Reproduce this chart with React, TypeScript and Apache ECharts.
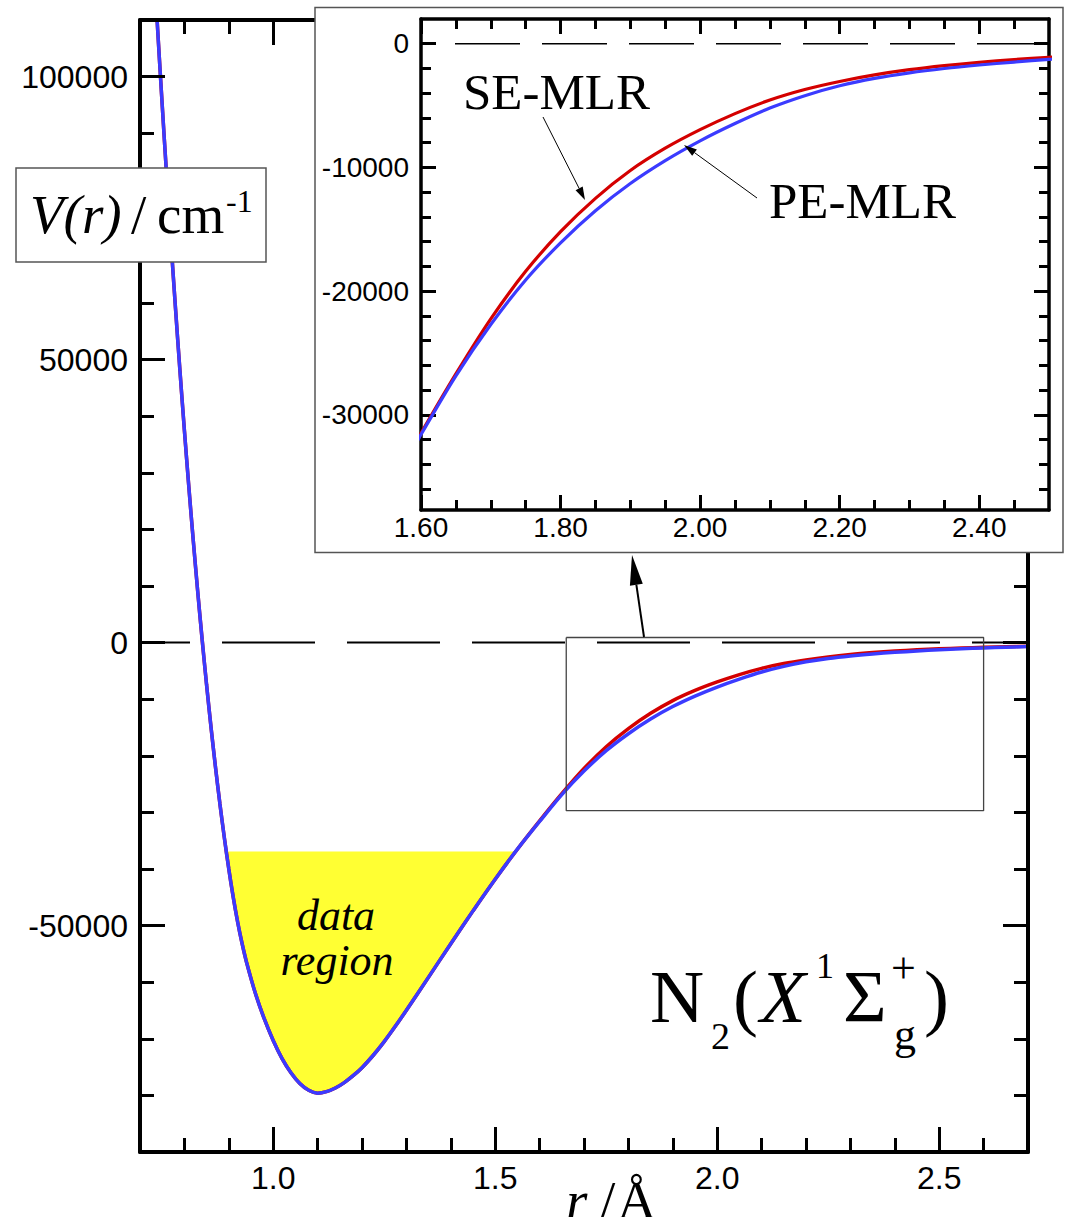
import React, { useEffect, useRef } from "react";
import * as echarts from "echarts";

// ---------------- data ----------------
// inner wall, well and outer limb (both fits coincide here), r in Å, V in cm^-1
const rWall = [0.73, 0.74, 0.75, 0.76, 0.77, 0.78, 0.79, 0.80, 0.81, 0.82, 0.83, 0.84, 0.85, 0.86, 0.87, 0.88, 0.89, 0.90, 0.91, 0.92, 0.93, 0.94, 0.96, 0.98, 1.00, 1.02, 1.04, 1.06, 1.08, 1.10, 1.12, 1.14, 1.16, 1.18, 1.20, 1.225, 1.25, 1.275, 1.30, 1.35, 1.40, 1.45, 1.50, 1.55];
const vWall = [121500, 108000, 95000, 82500, 70500, 59000, 48000, 37500, 27500, 18000, 9000, 500, -7500, -15000, -22000, -28500, -34500, -40000, -45000, -49400, -53200, -56500, -62000, -66500, -70300, -73500, -76000, -77900, -79100, -79600, -79340, -78700, -77740, -76520, -75100, -72950, -70500, -67800, -64950, -59100, -53200, -47400, -41800, -36500];

// long-range part where the two fits differ
const rOuter = [1.60, 1.65, 1.70, 1.75, 1.80, 1.85, 1.90, 1.95, 2.00, 2.05, 2.10, 2.15, 2.20, 2.25, 2.30, 2.35, 2.40, 2.45, 2.50, 2.55, 2.60, 2.65, 2.70];
const vSE = [-31500, -26700, -22250, -18400, -15200, -12500, -10250, -8450, -6950, -5650, -4550, -3700, -3050, -2520, -2100, -1770, -1500, -1280, -1100, -960, -830, -720, -630];
const vPE = [-31600, -26850, -22700, -19100, -16100, -13500, -11300, -9450, -7850, -6450, -5200, -4200, -3400, -2800, -2350, -2000, -1720, -1480, -1270, -1090, -940, -810, -700];

// "data region" (yellow) : top energy and its two edges in r
const dataRegionR = [0.894, 1.546];
const dataRegionV = -36900;

// zoom box drawn on the main plot
const zoomBoxR = [1.66, 2.6];
const zoomBoxV = [-29700, 900];

// ticks
const mainXMajor = [1.0, 1.5, 2.0, 2.5];
const mainXMinor = [0.8, 0.9, 1.1, 1.2, 1.3, 1.4, 1.6, 1.7, 1.8, 1.9, 2.1, 2.2, 2.3, 2.4, 2.6];
const mainYMajor = [-50000, 0, 50000, 100000];
const mainYMinor = [-80000, -70000, -60000, -40000, -30000, -20000, -10000, 10000, 20000, 30000, 40000, 60000, 70000, 80000, 90000];
const insetXMajor = [1.6, 1.8, 2.0, 2.2, 2.4];
const insetXMinor = [1.65, 1.7, 1.75, 1.85, 1.9, 1.95, 2.05, 2.1, 2.15, 2.25, 2.3, 2.35, 2.45];
const insetYMajor = [-30000, -20000, -10000, 0];
const insetYMinor = [-36000, -34000, -32000, -28000, -26000, -24000, -22000, -18000, -16000, -14000, -12000, -8000, -6000, -4000, -2000];

const mainXRange = [0.7, 2.7];
const mainYRange = [-90000, 110000];
const insetXRange = [1.6, 2.5];
const insetYRange = [-37700, 2000];

// ------------------------------------------------------------
const SERIF = '"Liberation Serif", "Times New Roman", serif';
const SANS = '"Liberation Sans", Arial, Helvetica, sans-serif';

const zip = (xs: number[], ys: number[]) => xs.map((x, i) => [x, ys[i]]);

function makeAxes(o: any) {
  const common = {
    type: "value",
    gridIndex: o.grid,
    position: o.pos,
    min: o.range[0],
    max: o.range[1],
    z: o.z,
    splitLine: { show: false },
    splitArea: { show: false },
  };
  const tickStyle = { color: "#000", width: o.tickW };
  return [
    {
      ...common,
      axisLine: { show: o.line, onZero: false, lineStyle: { color: "#000", width: o.lineW } },
      axisTick: { show: true, inside: true, length: o.majLen, customValues: o.major, lineStyle: tickStyle },
      axisLabel: o.label
        ? {
            show: true,
            customValues: o.major,
            formatter: o.label.fmt,
            fontSize: o.label.size,
            fontFamily: SANS,
            color: "#000",
            margin: o.label.margin,
          }
        : { show: false },
    },
    {
      ...common,
      axisLine: { show: false, onZero: false },
      axisTick: { show: true, inside: true, length: o.minLen, customValues: o.minor, lineStyle: tickStyle },
      axisLabel: { show: false },
    },
  ];
}

function txt(text: string, x: number, baseline: number, size: number, italic = false, align = "left") {
  return {
    type: "text",
    z: 30,
    style: {
      text,
      x,
      y: baseline - size * 0.34,
      fill: "#000",
      fontSize: size,
      fontFamily: SERIF,
      fontStyle: italic ? "italic" : "normal",
      textAlign: align,
      textVerticalAlign: "middle",
      align,
      verticalAlign: "middle",
    },
  };
}

function arrow(x1: number, y1: number, x2: number, y2: number, headLen: number, headHalf: number, w: number) {
  const dx = x2 - x1;
  const dy = y2 - y1;
  const L = Math.hypot(dx, dy);
  const ux = dx / L;
  const uy = dy / L;
  const bx = x2 - ux * headLen;
  const by = y2 - uy * headLen;
  return [
    { type: "line", z: 30, shape: { x1, y1, x2: bx, y2: by }, style: { stroke: "#000", lineWidth: w } },
    {
      type: "polygon",
      z: 30,
      shape: { points: [[x2, y2], [bx - uy * headHalf, by + ux * headHalf], [bx + uy * headHalf, by - ux * headHalf]] },
      style: { fill: "#000" },
    },
  ];
}

export default function App() {
  const ref = useRef<HTMLDivElement>(null);

  useEffect(() => {
    if (!ref.current) return;
    const chart = echarts.init(ref.current, undefined, { renderer: "svg" });

    const wall = zip(rWall, vWall);
    const seData = [...wall, ...zip(rOuter, vSE)];
    const peData = [...wall, ...zip(rOuter, vPE)];

    const fillPts = [
      [dataRegionR[0], dataRegionV],
      ...wall.filter((p) => p[0] > dataRegionR[0] && p[0] < dataRegionR[1]),
      [dataRegionR[1], dataRegionV],
    ];

    const xAxes = [
      ...makeAxes({ grid: 0, pos: "bottom", range: mainXRange, major: mainXMajor, minor: mainXMinor, majLen: 25, minLen: 14, line: true, lineW: 4, tickW: 3, z: 3, label: { fmt: (v: number) => v.toFixed(1), size: 32, margin: 10 } }),
      ...makeAxes({ grid: 0, pos: "top", range: mainXRange, major: mainXMajor, minor: mainXMinor, majLen: 25, minLen: 14, line: true, lineW: 4, tickW: 3, z: 3 }),
      ...makeAxes({ grid: 1, pos: "bottom", range: insetXRange, major: insetXMajor, minor: insetXMinor, majLen: 15, minLen: 10, line: true, lineW: 3.5, tickW: 3, z: 10, label: { fmt: (v: number) => v.toFixed(2), size: 28, margin: 3 } }),
      ...makeAxes({ grid: 1, pos: "top", range: insetXRange, major: insetXMajor, minor: insetXMinor, majLen: 15, minLen: 10, line: true, lineW: 3.5, tickW: 3, z: 10 }),
    ];
    const yAxes = [
      ...makeAxes({ grid: 0, pos: "left", range: mainYRange, major: mainYMajor, minor: mainYMinor, majLen: 25, minLen: 14, line: true, lineW: 4, tickW: 3, z: 3, label: { fmt: (v: number) => String(v), size: 32, margin: 12 } }),
      ...makeAxes({ grid: 0, pos: "right", range: mainYRange, major: mainYMajor, minor: mainYMinor, majLen: 25, minLen: 14, line: true, lineW: 4, tickW: 3, z: 3 }),
      ...makeAxes({ grid: 1, pos: "left", range: insetYRange, major: insetYMajor, minor: insetYMinor, majLen: 15, minLen: 10, line: true, lineW: 3.5, tickW: 3, z: 10, label: { fmt: (v: number) => String(v), size: 28, margin: 12 } }),
      ...makeAxes({ grid: 1, pos: "right", range: insetYRange, major: insetYMajor, minor: insetYMinor, majLen: 15, minLen: 10, line: true, lineW: 3.5, tickW: 3, z: 10 }),
    ];

    const lineBase = { type: "line", showSymbol: false, symbol: "none", silent: true };

    const option: any = {
      animation: false,
      backgroundColor: "#fff",
      textStyle: { fontFamily: SANS },
      grid: [
        { left: 140, top: 20, width: 888, height: 1132, outerBoundsMode: "none", containLabel: false },
        { left: 421, top: 19, width: 628, height: 491, outerBoundsMode: "none", containLabel: false },
      ],
      xAxis: xAxes,
      yAxis: yAxes,
      series: [
        // ---- main plot ----
        {
          type: "custom",
          xAxisIndex: 0,
          yAxisIndex: 0,
          z: 1,
          silent: true,
          data: [[1, 0]],
          renderItem: (_p: any, api: any) => ({
            type: "polygon",
            shape: { points: fillPts.map((p) => api.coord(p)) },
            style: { fill: "#ffff33", stroke: null },
          }),
        },
        {
          ...lineBase,
          xAxisIndex: 0,
          yAxisIndex: 0,
          z: 1,
          data: [[mainXRange[0], 0], [mainXRange[1], 0]],
          lineStyle: { color: "#000", width: 2, type: [93, 32], dashOffset: 43 },
        },
        {
          ...lineBase,
          name: "SE-MLR",
          xAxisIndex: 0,
          yAxisIndex: 0,
          z: 2,
          smooth: 0.3,
          data: seData,
          lineStyle: { color: "#d40000", width: 3.5 },
        },
        {
          ...lineBase,
          name: "PE-MLR",
          xAxisIndex: 0,
          yAxisIndex: 0,
          z: 2,
          smooth: 0.3,
          data: peData,
          lineStyle: { color: "#3b3bff", width: 3.5 },
        },
        {
          ...lineBase,
          xAxisIndex: 0,
          yAxisIndex: 0,
          z: 3,
          data: [
            [zoomBoxR[0], zoomBoxV[1]],
            [zoomBoxR[1], zoomBoxV[1]],
            [zoomBoxR[1], zoomBoxV[0]],
            [zoomBoxR[0], zoomBoxV[0]],
            [zoomBoxR[0], zoomBoxV[1]],
          ],
          lineStyle: { color: "#444", width: 1.3 },
        },
        // ---- inset ----
        {
          ...lineBase,
          xAxisIndex: 4,
          yAxisIndex: 4,
          z: 11,
          data: [[insetXRange[0], 0], [insetXRange[1], 0]],
          lineStyle: { color: "#000", width: 1.5, type: [65, 22], dashOffset: 53 },
        },
        {
          ...lineBase,
          xAxisIndex: 4,
          yAxisIndex: 4,
          z: 11,
          smooth: 0.3,
          data: seData,
          lineStyle: { color: "#d40000", width: 3.2 },
        },
        {
          ...lineBase,
          xAxisIndex: 4,
          yAxisIndex: 4,
          z: 11,
          smooth: 0.3,
          data: peData,
          lineStyle: { color: "#3b3bff", width: 3.2 },
        },
      ],
      graphic: [
        // inset frame (white background)
        {
          type: "rect",
          z: 5,
          shape: { x: 315, y: 7.5, width: 748, height: 545 },
          style: { fill: "#fff", stroke: "#555", lineWidth: 1.5 },
        },
        // V(r) label box
        {
          type: "rect",
          z: 29,
          shape: { x: 16, y: 168, width: 250, height: 94 },
          style: { fill: "#fff", stroke: "#555", lineWidth: 1.5 },
        },
        txt("V(r)", 30, 233, 55, true),
        txt("/", 131, 233, 55),
        txt("cm", 157, 233, 55),
        txt("-1", 226, 212, 32),
        // molecule label
        txt("N", 650, 1022, 75),
        txt("2", 711, 1049, 38),
        txt("(", 733, 1022, 75),
        txt("X", 760, 1022, 75, true),
        txt("1", 816, 978, 36),
        txt("Σ", 843, 1022, 75),
        txt("+", 891, 983, 44),
        txt("g", 894, 1049, 44),
        txt(")", 924, 1022, 75),
        // data region
        txt("data", 336, 930, 44, true, "center"),
        txt("region", 337, 975, 44, true, "center"),
        // inset labels
        txt("SE-MLR", 463, 109, 51),
        txt("PE-MLR", 769, 218, 51),
        // x-axis title
        txt("r", 566, 1219, 55, true),
        txt("/", 600, 1219, 55),
        txt("Å", 617, 1219, 55),
        // arrows
        ...arrow(644, 637, 632, 555, 30, 6.5, 2),
        ...arrow(543, 117, 585, 200, 13, 4, 1),
        ...arrow(757, 198, 684, 145, 13, 4, 1),
      ],
    };

    chart.setOption(option);
    return () => chart.dispose();
  }, []);

  return (
    <div
      ref={ref}
      style={{ position: "absolute", left: 0, top: 0, width: 1065, height: 1217, background: "#fff" }}
    />
  );
}
